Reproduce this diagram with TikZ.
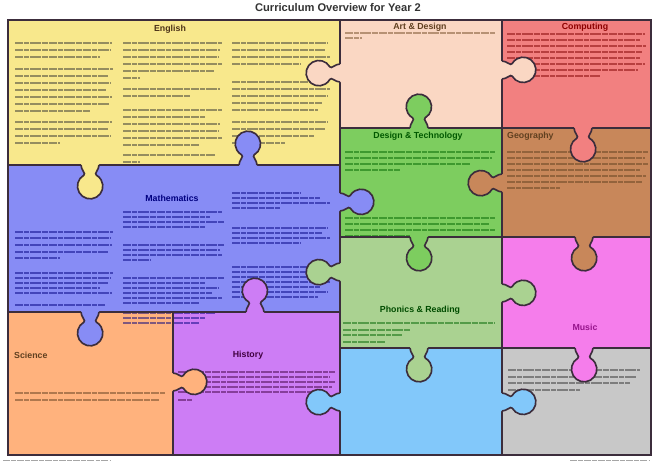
\documentclass[tikz,border=0pt]{standalone}
\usepackage{fontspec}
\setmainfont{Liberation Sans}
\definecolor{edge}{RGB}{60,45,60}
\definecolor{engl}{RGB}{248,232,140}
\definecolor{art}{RGB}{250,215,195}
\definecolor{comp}{RGB}{242,128,128}
\definecolor{dt}{RGB}{125,205,95}
\definecolor{geog}{RGB}{200,135,90}
\definecolor{maths}{RGB}{135,140,245}
\definecolor{phon}{RGB}{170,210,145}
\definecolor{music}{RGB}{245,125,235}
\definecolor{sci}{RGB}{255,178,125}
\definecolor{hist}{RGB}{205,125,245}
\definecolor{blank}{RGB}{130,200,250}
\definecolor{greybox}{RGB}{200,200,200}
\definecolor{musicdark}{RGB}{150,20,140}

\tikzset{
  grid/.style={draw=edge,line width=1.1pt},
  knobline/.style={draw=edge,line width=1.4pt},
  head/.style={font=\bfseries\fontsize{7.5}{9}\selectfont,inner sep=0pt},
  body/.style={line width=1pt,opacity=.5,
    dash pattern=on 7pt off 1pt on 4pt off 1pt on 9pt off 1pt on 5pt off 1pt}
}
% puzzle tab: colour, x, y, direction
\newcommand{\knob}[4]{%
  \begin{scope}[shift={(#2,#3)},rotate=#4]
    \fill[#1] (-2,-9) -- (0,-9) .. controls (5,-9) and (8.7,-3.6) .. (10.2,-6.2)
      arc[start angle=-150,end angle=150,radius=0.38cm]
      .. controls (8.7,3.6) and (5,9) .. (0,9) -- (-2,9) -- cycle;
    \draw[knobline] (0,-9) .. controls (5,-9) and (8.7,-3.6) .. (10.2,-6.2)
      arc[start angle=-150,end angle=150,radius=0.38cm]
      .. controls (8.7,3.6) and (5,9) .. (0,9);
  \end{scope}}
% lines of small print: colour, left x, list of y/right x
\newcommand{\txt}[3]{\foreach \yy/\xe in {#3} \draw[body,#1] (#2,\yy) -- (\xe,\yy);}

\begin{document}
\begin{tikzpicture}[x=0.03cm,y=0.03cm]
\useasboundingbox (0,0) rectangle (652,463);

% pieces
\fill[engl] (8,298) rectangle (340,443);
\fill[art] (340,335) rectangle (502,443);
\fill[comp] (502,335) rectangle (651,443);
\fill[dt] (340,226) rectangle (502,335);
\fill[geog] (502,226) rectangle (651,335);
\fill[maths] (8,151) rectangle (340,298);
\fill[phon] (340,115) rectangle (502,226);
\fill[music] (502,115) rectangle (651,226);
\fill[sci] (8,8) rectangle (173,151);
\fill[hist] (173,8) rectangle (340,151);
\fill[blank] (340,8) rectangle (502,115);
\fill[greybox] (502,8) rectangle (651,115);

% small print
\txt{black!80}{15}{420/112,413/110,406/100,394/113,387/108,380/111,373/106,366/112,359/109,352/90,341/112,334/108,327/110,320/60}
\txt{black!80}{123}{420/222,413/220,406/218,399/222,392/214,385/140,374/220,367/190,353/222,346/205,339/220,332/218,325/222,318/200,308/215,301/140}
\txt{black!80}{232}{420/328,413/325,406/330,399/300,381/325,374/330,367/328,360/322,353/318,341/328,334/325,327/315,320/285}
\txt{brown!60!black}{345}{430/495,425/362}
\txt{red!50!black}{507}{429/645,423/640,417/646,411/642,405/640,399/645,393/638,387/600}
\txt{green!40!black}{345}{311/495,305/492,299/470,293/400,245/495,239/490,233/495,227/420}
\txt{brown!50!black}{507}{311/648,305/645,299/648,293/640,287/646,281/642,275/560}
\txt{blue!50!black}{15}{231/113,225/110,218/112,211/108,205/60,190/113,185/111,180/108,175/100,170/112,158/105}
\txt{blue!50!black}{123}{251/222,246/210,241/224,236/205,218/224,213/220,208/222,203/150,185/224,180/205,175/218,170/212,165/222,160/200,150/215,145/205,140/200}
\txt{blue!50!black}{232}{270/300,265/320,260/330,255/280,235/328,230/322,225/330,220/300,196/328,191/322,186/325,181/330,176/320,171/328,166/318}
\txt{brown!50!black}{15}{70/165,63/160}
\txt{violet!50!black}{178}{91/335,86/330,81/335,76/332,71/322,63/192}
\txt{green!40!black}{343}{140/495,133/410,128/402,121/385}
\txt{black!80}{508}{93/640,86/636,80/630,73/580}

% outlines
\draw[grid] (8,8) rectangle (651,443);
\draw[grid] (8,298) -- (340,298) (340,335) -- (651,335) (340,226) -- (651,226)
  (8,151) -- (340,151) (340,115) -- (651,115)
  (340,8) -- (340,443) (502,8) -- (502,443) (173,8) -- (173,151);

% tabs
\knob{art}{340}{390}{180}
\knob{maths}{248}{298}{90}
\knob{engl}{90}{298}{270}
\knob{dt}{419}{335}{90}
\knob{art}{502}{393}{0}
\knob{comp}{583}{335}{270}
\knob{geog}{502}{280}{180}
\knob{maths}{340}{261}{0}
\knob{dt}{419}{226}{270}
\knob{geog}{584}{226}{270}
\knob{phon}{502}{170}{0}
\knob{phon}{340}{191}{180}
\knob{hist}{255}{151}{90}
\knob{maths}{90}{151}{270}
\knob{sci}{173}{81}{0}
\knob{blank}{340}{61}{180}
\knob{phon}{419}{115}{270}
\knob{music}{584}{115}{270}
\knob{blank}{502}{61}{0}

% headings
\node[head,font=\bfseries\fontsize{9.5}{11}\selectfont,text=black!80] (title) at (338,455) {Curriculum Overview for Year 2};
\node[head,text=brown!40!black] (english) at (170,434) {English};
\node[head,text=brown!50!black] (artdesign) at (420,436) {Art \& Design};
\node[head,text=red!55!black] (computing) at (585,436) {Computing};
\node[head,text=green!35!black] (designtech) at (418,327) {Design \& Technology};
\node[head,text=brown!50!black,anchor=west] (geography) at (507,327) {Geography};
\node[head,text=blue!50!black] (mathematics) at (172,265) {Mathematics};
\node[head,text=green!30!black] (phonics) at (420,153) {Phonics \& Reading};
\node[head,text=musicdark] (musichead) at (585,136) {Music};
\node[head,text=brown!50!black,anchor=west] (science) at (14,108) {Science};
\node[head,text=violet!50!black] (history) at (248,108) {History};

% credits at the foot
\draw[line width=.8pt,gray!70,dash pattern=on 6pt off 1pt on 4pt off 1pt] (3,3) -- (110,3);
\draw[line width=.8pt,gray!70,dash pattern=on 6pt off 1pt on 4pt off 1pt] (570,3) -- (650,3);
\end{tikzpicture}
\end{document}
